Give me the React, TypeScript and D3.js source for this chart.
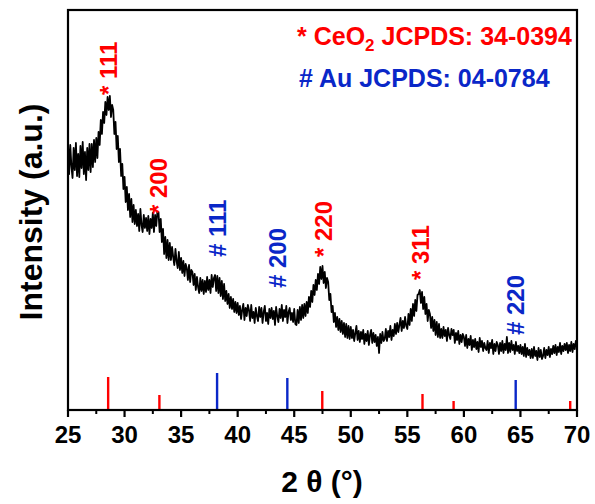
import React from "react";
import * as d3 from "d3";

const xTicks = [25, 30, 35, 40, 45, 50, 55, 60, 65, 70];
const xMinorTicks = [27.5, 32.5, 37.5, 42.5, 47.5, 52.5, 57.5, 62.5, 67.5];

const thetaStart = 25;
const thetaStep = 0.1;
// XRD intensity (a.u.), one value every 0.1 degree from 25 to 70 (one row per degree)
const intensity = [
  268, 236, 265, 244, 232, 262, 240, 267, 234, 256,
  233, 264, 242, 268, 236, 258, 230, 262, 240, 266,
  238, 266, 243, 270, 248, 272, 252, 278, 265, 290,
  276, 298, 287, 308, 295, 313, 300, 314, 293, 305,
  300, 276, 288, 261, 274, 248, 261, 234, 246, 221,
  233, 208, 223, 200, 216, 193, 211, 188, 205, 186,
  200, 184, 196, 179, 201, 185, 178, 195, 182, 192,
  179, 194, 176, 191, 182, 197, 178, 195, 184, 198,
  198, 178, 191, 168, 181, 156, 173, 152, 170, 150,
  167, 150, 163, 153, 145, 161, 149, 142, 158, 140,
  152, 137, 149, 134, 146, 142, 130, 145, 128, 140,
  138, 125, 136, 120, 133, 123, 117, 132, 119, 130,
  116, 129, 118, 133, 120, 130, 117, 135, 123, 132,
  135, 119, 134, 117, 132, 114, 129, 111, 126, 109,
  119, 106, 116, 102, 113, 101, 111, 98, 108, 97,
  107, 95, 104, 91, 100, 106, 90, 102, 94, 105,
  100, 89, 105, 92, 98, 87, 102, 94, 89, 103,
  93, 102, 87, 98, 104, 89, 97, 86, 101, 92,
  102, 91, 99, 85, 103, 94, 88, 101, 92, 105,
  89, 100, 93, 104, 87, 98, 102, 90, 97, 88,
  101, 86, 85, 100, 87, 103, 90, 105, 92, 106,
  94, 108, 97, 113, 103, 119, 108, 125, 115, 130,
  120, 136, 126, 143, 131, 144, 127, 138, 122, 132,
  128, 110, 116, 98, 104, 88, 97, 83, 93, 80,
  91, 78, 89, 76, 87, 73, 86, 72, 84, 71,
  83, 72, 80, 69, 77, 84, 70, 79, 68, 78,
  71, 80, 66, 76, 69, 79, 65, 75, 80, 67,
  77, 68, 75, 64, 73, 57, 76, 67, 78, 69,
  71, 81, 69, 79, 73, 84, 70, 80, 74, 86,
  76, 87, 78, 85, 92, 79, 89, 82, 93, 84,
  81, 96, 85, 101, 89, 106, 94, 110, 99, 115,
  116, 120, 107, 118, 101, 113, 96, 106, 89, 100,
  96, 82, 93, 79, 90, 75, 88, 73, 86, 72,
  81, 72, 83, 74, 80, 69, 82, 75, 71, 81,
  75, 80, 67, 77, 70, 79, 66, 75, 68, 76,
  73, 64, 75, 62, 71, 65, 74, 60, 70, 63,
  71, 61, 68, 58, 72, 63, 69, 59, 67, 62,
  60, 69, 57, 67, 62, 70, 56, 66, 59, 68,
  65, 56, 67, 59, 69, 57, 66, 60, 73, 57,
  67, 58, 69, 60, 65, 56, 68, 59, 64, 57,
  65, 56, 63, 54, 66, 53, 62, 55, 60, 52,
  61, 52, 63, 54, 59, 50, 62, 53, 60, 51,
  54, 62, 52, 60, 55, 63, 53, 61, 56, 64,
  57, 65, 55, 63, 58, 67, 56, 64, 59, 66,
  60, 67, 57, 65, 59, 68, 58, 66, 61, 69,
  64,
];

// Reference patterns (2θ, relative height)
const ceo2Pos = [28.55, 33.08, 47.48, 56.34, 59.09, 69.4];
const ceo2Height = [33, 15, 19, 16, 9, 9];
const auPos = [38.18, 44.39, 64.58];
const auHeight = [37, 32, 30];

// Peak labels
const labelText = ["* 111", "* 200", "# 111", "# 200", "* 220", "* 311", "# 220"];
const labelPos = [28.55, 33.0, 38.15, 43.5, 47.5, 56.15, 64.5];
const labelLevel = [315, 196, 153, 122, 153, 130, 75];
const labelColor = ["red", "red", "blue", "blue", "red", "red", "blue"];

const RED = "#ff0000";
const BLUE = "#0a27c8";
const FONT = "'Liberation Sans', Arial, Helvetica, sans-serif";

export default function App() {
  const W = 595;
  const H = 504;
  const m = { left: 68, right: 18, top: 10, bottom: 94 };
  const x = d3.scaleLinear().domain([25, 70]).range([m.left, W - m.right]);
  const y = d3.scaleLinear().domain([0, 400]).range([H - m.bottom, m.top]);

  const pts = intensity.map((v, i) => [thetaStart + i * thetaStep, v] as [number, number]);
  const line = d3
    .line<[number, number]>()
    .x((d) => x(d[0]))
    .y((d) => y(d[1]));

  const y0 = y(0);

  return (
    <svg
      width={W}
      height={H}
      style={{ position: "absolute", left: 0, top: 0, background: "#fff" }}
      fontFamily={FONT}
    >
      <rect width={W} height={H} fill="#fff" />
      {/* reference lines */}
      {ceo2Pos.map((p, i) => (
        <line key={"c" + i} x1={x(p)} x2={x(p)} y1={y0} y2={y(ceo2Height[i])} stroke={RED} strokeWidth={2.4} />
      ))}
      {auPos.map((p, i) => (
        <line key={"a" + i} x1={x(p)} x2={x(p)} y1={y0} y2={y(auHeight[i])} stroke={BLUE} strokeWidth={2.4} />
      ))}
      {/* pattern */}
      <path d={line(pts) || ""} fill="none" stroke="#000" strokeWidth={1.8} strokeLinejoin="round" />
      {/* frame */}
      <rect
        x={m.left}
        y={m.top}
        width={W - m.right - m.left}
        height={H - m.bottom - m.top}
        fill="none"
        stroke="#000"
        strokeWidth={2.2}
      />
      {/* x ticks */}
      {xTicks.map((t) => (
        <g key={"t" + t}>
          <line x1={x(t)} x2={x(t)} y1={y0} y2={y0 + 7} stroke="#000" strokeWidth={2.2} />
          <text x={x(t)} y={y0 + 33} textAnchor="middle" fontSize={24} fontWeight="bold" fill="#000">
            {t}
          </text>
        </g>
      ))}
      {xMinorTicks.map((t) => (
        <line key={"mt" + t} x1={x(t)} x2={x(t)} y1={y0} y2={y0 + 4} stroke="#000" strokeWidth={2} />
      ))}
      {/* axis titles */}
      <text x={322} y={492} textAnchor="middle" fontSize={30} fontWeight="bold" fill="#000">
        2 θ (°)
      </text>
      <text
        transform={`translate(42,212) rotate(-90)`}
        textAnchor="middle"
        fontSize={32}
        fontWeight="bold"
        fill="#000"
      >
        Intensity (a.u.)
      </text>
      {/* peak labels */}
      {labelText.map((t, i) => (
        <text
          key={"l" + i}
          transform={`translate(${x(labelPos[i]) + 9},${y(labelLevel[i])}) rotate(-90)`}
          textAnchor="start"
          fontSize={24}
          fontWeight="bold"
          fill={labelColor[i] === "red" ? RED : BLUE}
        >
          {t}
        </text>
      ))}
      {/* legend */}
      <text x={297} y={45} fontSize={25} fontWeight="bold" fill={RED}>
        * CeO
        <tspan fontSize={17} dy={6}>2</tspan>
        <tspan dy={-6}> JCPDS: 34-0394</tspan>
      </text>
      <text x={299} y={87} fontSize={25} fontWeight="bold" fill={BLUE}>
        # Au JCPDS: 04-0784
      </text>
    </svg>
  );
}
